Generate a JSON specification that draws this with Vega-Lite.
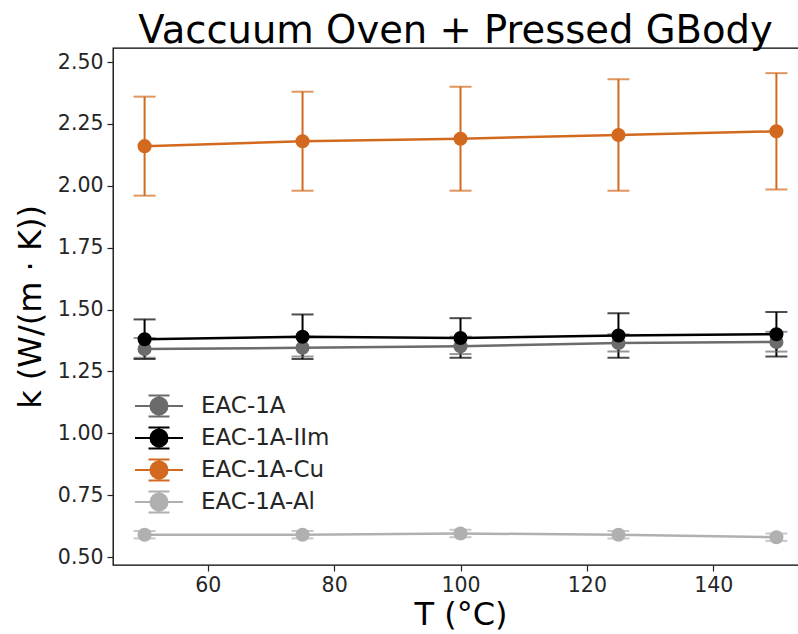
{
  "$schema": "https://vega.github.io/schema/vega-lite/v6.json",
  "autosize": "none",
  "padding": {"left": 113, "top": 48, "right": 0, "bottom": 69},
  "width": 695,
  "height": 517,
  "background": "white",
  "config": {
    "font": "DejaVu Sans",
    "view": {"stroke": "black", "strokeWidth": 1.3},
    "axis": {"grid": false, "domain": false, "tickColor": "#222", "tickSize": 6, "tickWidth": 1.2, "labelFontSize": 20.5, "labelColor": "#262626", "labelPadding": 4, "titleFontSize": 32, "titleFontWeight": "normal", "titleColor": "black"}
  },
  "title": {"text": "Vaccuum Oven + Pressed GBody", "fontSize": 38.5, "fontWeight": "normal", "font": "DejaVu Sans", "color": "black", "anchor": "middle", "offset": -3, "dx": -5},
  "data": {"values": [
    {"series": "EAC-1A", "T": 50, "k": 1.34, "lo": 1.305, "hi": 1.385},
    {"series": "EAC-1A", "T": 75, "k": 1.345, "lo": 1.31, "hi": 1.39},
    {"series": "EAC-1A", "T": 100, "k": 1.352, "lo": 1.32, "hi": 1.39},
    {"series": "EAC-1A", "T": 125, "k": 1.365, "lo": 1.33, "hi": 1.40},
    {"series": "EAC-1A", "T": 150, "k": 1.369, "lo": 1.33, "hi": 1.41},
    {"series": "EAC-1A-IIm", "T": 50, "k": 1.38, "lo": 1.30, "hi": 1.46},
    {"series": "EAC-1A-IIm", "T": 75, "k": 1.39, "lo": 1.30, "hi": 1.48},
    {"series": "EAC-1A-IIm", "T": 100, "k": 1.385, "lo": 1.305, "hi": 1.465},
    {"series": "EAC-1A-IIm", "T": 125, "k": 1.395, "lo": 1.305, "hi": 1.485},
    {"series": "EAC-1A-IIm", "T": 150, "k": 1.40, "lo": 1.31, "hi": 1.49},
    {"series": "EAC-1A-Cu", "T": 50, "k": 2.16, "lo": 1.96, "hi": 2.36},
    {"series": "EAC-1A-Cu", "T": 75, "k": 2.18, "lo": 1.98, "hi": 2.38},
    {"series": "EAC-1A-Cu", "T": 100, "k": 2.19, "lo": 1.98, "hi": 2.40},
    {"series": "EAC-1A-Cu", "T": 125, "k": 2.205, "lo": 1.98, "hi": 2.43},
    {"series": "EAC-1A-Cu", "T": 150, "k": 2.22, "lo": 1.985, "hi": 2.455},
    {"series": "EAC-1A-Al", "T": 50, "k": 0.59, "lo": 0.575, "hi": 0.605},
    {"series": "EAC-1A-Al", "T": 75, "k": 0.59, "lo": 0.575, "hi": 0.605},
    {"series": "EAC-1A-Al", "T": 100, "k": 0.595, "lo": 0.58, "hi": 0.61},
    {"series": "EAC-1A-Al", "T": 125, "k": 0.59, "lo": 0.575, "hi": 0.605},
    {"series": "EAC-1A-Al", "T": 150, "k": 0.58, "lo": 0.565, "hi": 0.595}
  ]},
  "encoding": {
    "x": {"field": "T", "type": "quantitative", "scale": {"domain": [45, 155], "nice": false, "zero": false},
      "axis": {"values": [60, 80, 100, 120, 140], "title": "T (°C)", "titlePadding": 4}},
    "color": {"field": "series", "type": "nominal",
      "scale": {"domain": ["EAC-1A", "EAC-1A-IIm", "EAC-1A-Cu", "EAC-1A-Al"], "range": ["#6b6b6b", "#000000", "#d2691e", "#b0b0b0"]},
      "legend": {"orient": "none", "legendX": 30, "legendY": 342, "title": null, "padding": 0,
        "symbolType": "M-1.6,0H1.6M0,-0.7V0.7M-0.7,-0.7H0.7M-0.7,0.7H0.7M0.57,0A0.57,0.57 0 1 1 -0.57,0A0.57,0.57 0 1 1 0.57,0Z",
        "symbolSize": 900, "symbolStrokeWidth": 2, "symbolOpacity": 1,
        "labelFontSize": 23, "labelColor": "#262626", "labelOffset": 26, "rowPadding": 1,
        "encode": {"symbols": {"update": {"fill": {"scale": "color", "field": "value"}, "stroke": {"scale": "color", "field": "value"}, "strokeWidth": {"value": 2}, "opacity": {"value": 1}}}}}
    }
  },
  "layer": [
    {"mark": {"type": "rule", "strokeWidth": 2},
      "encoding": {"y": {"field": "lo", "type": "quantitative"}, "y2": {"field": "hi"}}},
    {"mark": {"type": "tick", "orient": "horizontal", "size": 22, "thickness": 2},
      "encoding": {"y": {"field": "lo", "type": "quantitative"}}},
    {"mark": {"type": "tick", "orient": "horizontal", "size": 22, "thickness": 2},
      "encoding": {"y": {"field": "hi", "type": "quantitative"}}},
    {"mark": {"type": "line", "strokeWidth": 2.5},
      "encoding": {"y": {"field": "k", "type": "quantitative"}}},
    {"mark": {"type": "point", "filled": true, "size": 200, "opacity": 1},
      "encoding": {"y": {"field": "k", "type": "quantitative",
        "scale": {"domain": [0.4677, 2.5566], "nice": false, "zero": false},
        "axis": {"values": [0.5, 0.75, 1.0, 1.25, 1.5, 1.75, 2.0, 2.25, 2.5], "format": ".2f", "title": "k (W/(m · K))", "titlePadding": 10}}}}
  ]
}
